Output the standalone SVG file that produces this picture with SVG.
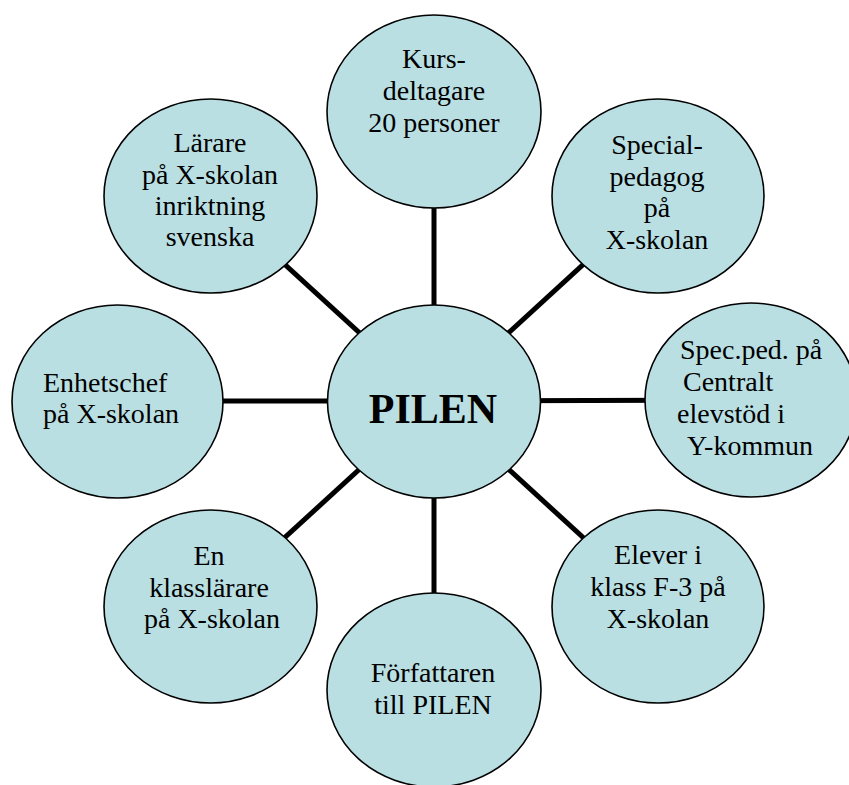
<svg xmlns="http://www.w3.org/2000/svg" width="849" height="785" viewBox="0 0 849 785" font-family="'Liberation Serif', 'Times New Roman', Times, serif">
<style>
.n{fill:#B9DFE3;stroke:#000;stroke-width:1.6}
.t{font-family:'Liberation Serif','Times New Roman',Times,serif;font-size:28px;fill:#000;text-anchor:middle}
.l{text-anchor:start}
.b{font-weight:bold;font-size:42px}
.c{stroke:#000;stroke-width:5;fill:none}
</style>
<rect width="849" height="785" fill="#fff"/>
<g id="connectors">
<line class="c" x1="434" y1="401" x2="434" y2="111"/>
<line class="c" x1="434" y1="401" x2="658" y2="196"/>
<line class="c" x1="434" y1="401" x2="751" y2="400"/>
<line class="c" x1="434" y1="401" x2="658" y2="606"/>
<line class="c" x1="434" y1="401" x2="434" y2="690"/>
<line class="c" x1="434" y1="401" x2="210" y2="606"/>
<line class="c" x1="434" y1="401" x2="117" y2="401"/>
<line class="c" x1="434" y1="401" x2="210" y2="196"/>
</g>
<g id="kurs">
<ellipse class="n" cx="434" cy="111.5" rx="107" ry="96.5"/>
<text class="t" x="434" y="68">Kurs-</text>
<text class="t" x="434" y="100">deltagare</text>
<text class="t" x="434" y="132">20 personer</text>
</g>
<g id="special">
<ellipse class="n" cx="658" cy="196" rx="106" ry="97"/>
<text class="t" x="657" y="154">Special-</text>
<text class="t" x="657" y="185.5">pedagog</text>
<text class="t" x="657" y="217">på</text>
<text class="t" x="657" y="248.5">X-skolan</text>
</g>
<g id="specped">
<ellipse class="n" cx="751" cy="400" rx="106" ry="97"/>
<text class="t l" x="680" y="359">Spec.ped. på</text>
<text class="t l" x="683" y="391">Centralt</text>
<text class="t l" x="677" y="423">elevstöd i</text>
<text class="t l" x="687" y="455">Y-kommun</text>
</g>
<g id="elever">
<ellipse class="n" cx="658" cy="606.5" rx="106" ry="96.5"/>
<text class="t" x="658" y="564">Elever i</text>
<text class="t" x="658" y="596">klass F-3 på</text>
<text class="t" x="658" y="628">X-skolan</text>
</g>
<g id="forfattaren">
<ellipse class="n" cx="434" cy="690" rx="107" ry="97"/>
<text class="t" x="433" y="682">Författaren</text>
<text class="t" x="433" y="714">till PILEN</text>
</g>
<g id="klasslarare">
<ellipse class="n" cx="210.5" cy="606.5" rx="106.5" ry="96.5"/>
<text class="t" x="209" y="565">En</text>
<text class="t" x="209" y="597">klasslärare</text>
<text class="t" x="212" y="628">på X-skolan</text>
</g>
<g id="enhetschef">
<ellipse class="n" cx="117.5" cy="401.5" rx="105.5" ry="96.5"/>
<text class="t l" x="43" y="392">Enhetschef</text>
<text class="t l" x="43" y="423">på X-skolan</text>
</g>
<g id="larare">
<ellipse class="n" cx="210.5" cy="196" rx="106.5" ry="97"/>
<text class="t" x="210" y="152">Lärare</text>
<text class="t" x="210" y="184">på X-skolan</text>
<text class="t" x="210" y="215">inriktning</text>
<text class="t" x="210" y="246">svenska</text>
</g>
<g id="pilen">
<ellipse class="n" cx="434" cy="401.5" rx="106.5" ry="96.5"/>
<text class="t b" x="433" y="423">PILEN</text>
</g>
</svg>
